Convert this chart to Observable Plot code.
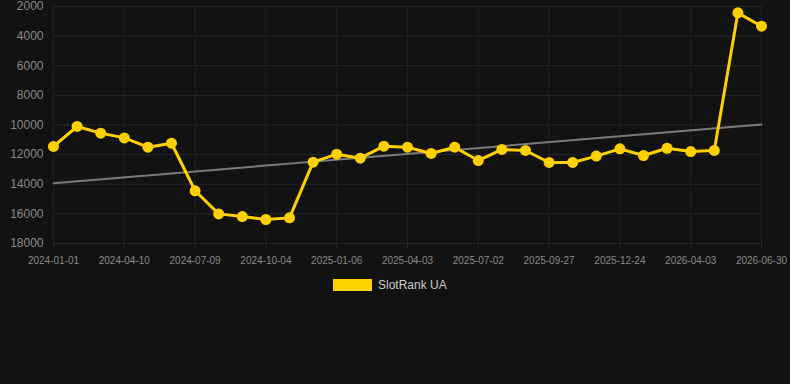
<!DOCTYPE html>
<html>
<head>
<meta charset="utf-8">
<script src="https://cdn.jsdelivr.net/npm/d3@7"></script>
<script src="https://cdn.jsdelivr.net/npm/@observablehq/plot@0.6"></script>
<style>
  html, body { margin: 0; padding: 0; background: #121212; }
  body { width: 790px; height: 384px; overflow: hidden; font-family: "Liberation Sans", Arial, sans-serif; }
  #legend { position: relative; height: 24px; }
  #legend .sw { position: absolute; left: 333px; top: 9px; width: 39px; height: 12px; background: #FFD000; }
  #legend .lb { position: absolute; left: 378px; top: 8px; font-size: 12px; color: #cccccc; line-height: 14px; }
</style>
</head>
<body>
<div id="chart"></div>
<div id="legend"><div class="sw"></div><div class="lb">SlotRank UA</div></div>
<script>
const dates = [
  "2024-01-01","2024-02-03","2024-03-07","2024-04-10","2024-05-10","2024-06-09",
  "2024-07-09","2024-08-07","2024-09-05","2024-10-04","2024-11-04","2024-12-05",
  "2025-01-06","2025-02-03","2025-03-03","2025-04-03","2025-05-03","2025-06-02",
  "2025-07-02","2025-07-31","2025-08-29","2025-09-27","2025-10-26","2025-11-24",
  "2025-12-24","2026-01-27","2026-03-01","2026-04-03","2026-05-03","2026-06-01",
  "2026-06-30"
];
const ranks = [
  11450, 10100, 10550, 10870, 11500, 11230,
  14440, 16000, 16180, 16380, 16270, 12510,
  11970, 12240, 11430, 11500, 11920, 11500,
  12400, 11650, 11720, 12530, 12530, 12100,
  11610, 12060, 11570, 11790, 11720, 2430,
  3330
];
const trendDates = ["2024-01-01", "2026-06-30"];
const trendValues = [13930, 9970];
const xTickLabels = ["2024-01-01","2024-04-10","2024-07-09","2024-10-04","2025-01-06",
  "2025-04-03","2025-07-02","2025-09-27","2025-12-24","2026-04-03","2026-06-30"];
const yTicks = [2000, 4000, 6000, 8000, 10000, 12000, 14000, 16000, 18000];

// dates are drawn evenly spaced (category axis); position = index in dates
const idx = d => dates.indexOf(d);
const data = dates.map((d, i) => ({pos: i, date: d, rank: ranks[i]}));
const trend = trendDates.map((d, i) => ({pos: idx(d), date: d, rank: trendValues[i]}));
const xTicks = xTickLabels.map(idx);

const chart = Plot.plot({
  width: 790,
  height: 270,
  marginTop: 6,
  marginBottom: 27,
  marginLeft: 53,
  marginRight: 29,
  style: {background: "#121212", fontFamily: "Liberation Sans, Arial, sans-serif"},
  x: {type: "linear", domain: [0, dates.length - 1], label: null},
  y: {domain: [2000, 18000], reverse: true, label: null},
  marks: [
    Plot.gridY(yTicks, {stroke: "#262626", strokeOpacity: 1}),
    Plot.gridX(xTicks, {stroke: "#1e1e1e", strokeOpacity: 1}),
    Plot.axisY(yTicks, {tickSize: 0, tickPadding: 10, fontSize: 12, fill: "#8a8a8a", tickFormat: d => String(d), label: null}),
    Plot.axisX(xTicks, {tickSize: 5, stroke: "#2a2a2a", tickPadding: 8, fontSize: 10, fill: "#8a8a8a", tickFormat: i => dates[i], label: null}),
    Plot.line(trend, {x: "pos", y: "rank", stroke: "#7a7a7a", strokeWidth: 2}),
    Plot.line(data, {x: "pos", y: "rank", stroke: "#FFD000", strokeWidth: 3}),
    Plot.dot(data, {x: "pos", y: "rank", fill: "#FFD000", r: 5.5})
  ]
});
document.getElementById("chart").appendChild(chart);
</script>
</body>
</html>
